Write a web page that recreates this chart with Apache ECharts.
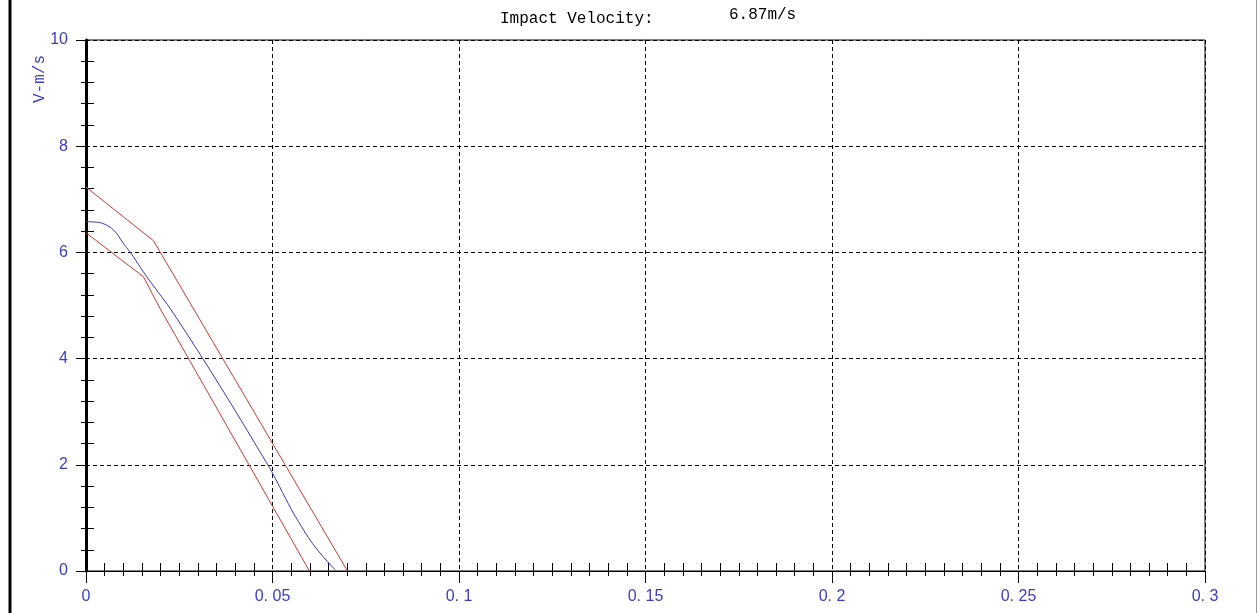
<!DOCTYPE html>
<html>
<head>
<meta charset="utf-8">
<title>Impact Velocity</title>
<script src="https://cdn.jsdelivr.net/npm/echarts@6/dist/echarts.min.js"></script>
<style>
  html, body { margin: 0; padding: 0; background: #fff; }
  #chart { width: 1258px; height: 613px; }
</style>
</head>
<body>
<div id="chart"></div>
<script>
// Velocity vs. displacement trace with upper/lower tolerance bands
const impactVelocityLabel = 'Impact Velocity:';
const impactVelocityText = '6.87m/s';
const yAxisTitle = 'V-m/s';

const xTicks = [0, 0.05, 0.1, 0.15, 0.2, 0.25, 0.3];
const yTicks = [0, 2, 4, 6, 8, 10];

// measured velocity curve [x, v]
const velocityCurve = [
  [0, 6.58], [0.0038, 6.56], [0.0064, 6.48], [0.0082, 6.36], [0.010, 6.17],
  [0.0118, 6.01], [0.0163, 5.54], [0.0225, 4.95], [0.0315, 3.98], [0.040, 3.02],
  [0.0466, 2.25], [0.0498, 1.87], [0.0556, 1.09], [0.0601, 0.58], [0.0632, 0.30],
  [0.0668, 0.02]
];
// upper tolerance limit
const upperLimit = [[0, 7.23], [0.0181, 6.22], [0.0701, 0]];
// lower tolerance limit
const lowerLimit = [[0, 6.37], [0.0154, 5.54], [0.0198, 4.95], [0.0599, 0]];

const labelBlue = '#3c3cc8';
const curveBlue = '#3434d0';
const limitRed = '#dc3434';
const labelFont = { fontFamily: 'Liberation Sans', fontSize: 16, color: labelBlue };

function fmtX(v) {
  const n = Number(v.toFixed(2));
  return n === 0 ? '0' : String(n).replace('.', '. ');
}

const xMin = xTicks[0], xMax = xTicks[xTicks.length - 1];
const xStep = xTicks[1] - xTicks[0];
const yMin = yTicks[0], yMax = yTicks[yTicks.length - 1];
const yStep = yTicks[1] - yTicks[0];

const chart = echarts.init(document.getElementById('chart'), null, { renderer: 'canvas' });

chart.setOption({
  animation: false,
  backgroundColor: '#fff',
  title: [
    { text: impactVelocityLabel, left: 500, top: 11, padding: 0,
      textStyle: { fontFamily: 'Liberation Mono', fontSize: 16, fontWeight: 'normal', color: '#000' } },
    { text: impactVelocityText, left: 729, top: 7, padding: 0,
      textStyle: { fontFamily: 'Liberation Mono', fontSize: 16, fontWeight: 'normal', color: '#000' } }
  ],
  grid: {
    left: 86, right: 53, top: 40, bottom: 42,
    show: true, borderColor: '#000', borderWidth: 1, backgroundColor: 'transparent'
  },
  xAxis: [
    {
      type: 'value', min: xMin, max: xMax, interval: xStep, position: 'bottom',
      axisLine: { show: true, lineStyle: { color: '#000', width: 1 } },
      axisTick: { show: true, inside: false, length: 12, lineStyle: { color: '#000' } },
      minorTick: { show: true, splitNumber: 10, length: 5, lineStyle: { color: '#000' } },
      axisLabel: Object.assign({ margin: 18, formatter: fmtX }, labelFont),
      splitLine: { show: true, lineStyle: { color: '#000', type: [4, 3], width: 1 } }
    },
    {
      type: 'value', min: xMin, max: xMax, interval: xStep, position: 'bottom',
      axisLine: { show: false },
      axisTick: { show: false, inside: true },
      minorTick: { show: true, splitNumber: 10, length: 8, lineStyle: { color: '#000' } },
      axisLabel: { show: false },
      splitLine: { show: false }
    }
  ],
  yAxis: [
    {
      type: 'value', min: yMin, max: yMax, interval: yStep, position: 'left',
      axisLine: { show: true, lineStyle: { color: '#000', width: 3 } },
      axisTick: { show: true, inside: false, length: 10, lineStyle: { color: '#000' } },
      minorTick: { show: true, splitNumber: 5, length: 5, lineStyle: { color: '#000' } },
      axisLabel: Object.assign({ margin: 18 }, labelFont),
      splitLine: { show: true, lineStyle: { color: '#000', type: [4, 3], width: 1 } }
    },
    {
      type: 'value', min: yMin, max: yMax, interval: yStep, position: 'left',
      axisLine: { show: false },
      axisTick: { show: false, inside: true },
      minorTick: { show: true, splitNumber: 5, length: 8, lineStyle: { color: '#000' } },
      axisLabel: { show: false },
      splitLine: { show: false }
    }
  ],
  graphic: [
    { type: 'rect', silent: true, shape: { x: 8.5, y: 0, width: 3, height: 613 }, style: { fill: '#000' } },
    { type: 'rect', silent: true, shape: { x: 1256, y: 0, width: 1, height: 613 }, style: { fill: '#9a9a9a' } },
    { type: 'text', silent: true, x: 40, y: 79, rotation: Math.PI / 2,
      style: { text: yAxisTitle, fill: labelBlue, font: '16px "Liberation Mono"', align: 'center', verticalAlign: 'middle' } }
  ],
  series: [
    { name: 'upper', type: 'line', xAxisIndex: 0, yAxisIndex: 0, data: upperLimit,
      showSymbol: false, smooth: false, lineStyle: { color: limitRed, width: 1 }, silent: true },
    { name: 'lower', type: 'line', xAxisIndex: 0, yAxisIndex: 0, data: lowerLimit,
      showSymbol: false, smooth: false, lineStyle: { color: limitRed, width: 1 }, silent: true },
    { name: 'velocity', type: 'line', xAxisIndex: 0, yAxisIndex: 0, data: velocityCurve,
      showSymbol: false, smooth: 0.25, lineStyle: { color: curveBlue, width: 1 }, silent: true }
  ]
});
</script>
</body>
</html>
